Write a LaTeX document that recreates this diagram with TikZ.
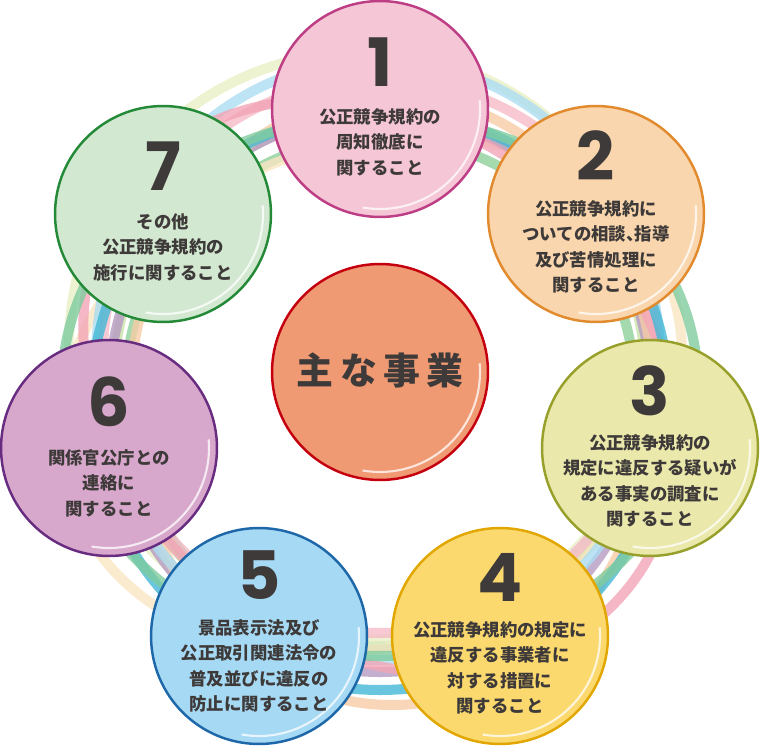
\documentclass[tikz,border=0pt]{standalone}
\usepackage{fontspec}
\setmainfont{Noto Sans CJK JP}
\newfontfamily\numfont{Poppins}
\newcommand{\halfcomma}{{\addfontfeatures{RawFeature=+halt}、}}
\definecolor{ink}{HTML}{3E3A39}
\definecolor{fill0}{HTML}{F09A74}\definecolor{line0}{HTML}{C4000F}
\definecolor{fill1}{HTML}{F5C6D5}\definecolor{line1}{HTML}{BE3E85}
\definecolor{fill2}{HTML}{F9D6AD}\definecolor{line2}{HTML}{E28A2E}
\definecolor{fill3}{HTML}{EAE8AA}\definecolor{line3}{HTML}{98A02C}
\definecolor{fill4}{HTML}{FBD96F}\definecolor{line4}{HTML}{E1A700}
\definecolor{fill5}{HTML}{A6D9F4}\definecolor{line5}{HTML}{1E67A8}
\definecolor{fill6}{HTML}{D8A8CC}\definecolor{line6}{HTML}{682C80}
\definecolor{fill7}{HTML}{D3E8D1}\definecolor{line7}{HTML}{248A38}
\definecolor{ringlime}{HTML}{C8E1A6}
\definecolor{ringleaf}{HTML}{8FCF9A}
\definecolor{ringyg}{HTML}{E8EFC6}
\definecolor{ringyellow}{HTML}{F9E6C2}
\definecolor{ringpurple}{HTML}{B69BC3}
\definecolor{ringpeach}{HTML}{F7CCA6}
\definecolor{ringblue}{HTML}{ABDDF2}
\definecolor{ringrose}{HTML}{F6BCC8}
\definecolor{ringpink}{HTML}{F3A5B6}
\definecolor{ringcyan}{HTML}{43B8D6}
\definecolor{ringgreen}{HTML}{7FCC9E}
\begin{document}
\begin{tikzpicture}[x=0.02cm, y=-0.02cm,
  band/.style={line width=5.7pt, opacity=0.8},
  disc/.style={circle, draw, line width=1.4pt, minimum size=4.32cm, inner sep=0pt},
  gloss/.style={draw=white, line width=1.2pt, opacity=0.75},
  num/.style={font=\numfont\bfseries\fontsize{38}{38}\selectfont, text=ink, anchor=base, inner sep=0pt},
  txt/.style={font=\bfseries\fontsize{9.9}{14.5}\selectfont, text=ink, align=center, inner sep=0pt}
]
\useasboundingbox (0,0) rectangle (760,746);

% colored rings behind the discs
\draw[band, ringlime] (380,380) circle [radius=266];
\draw[band, ringleaf] (380,392) circle [radius=255];
\draw[band, ringyellow] (371,394) ellipse [x radius=318, y radius=250, rotate=20];
\draw[band, ringyg] (363,346) circle [radius=294];
\draw[band, ringpurple] (380,393) ellipse [x radius=271, y radius=279];
\draw[band, ringpeach] (392,400) ellipse [x radius=262, y radius=305];
\draw[band, ringblue] (378,360) ellipse [x radius=282, y radius=300];
\draw[band, ringrose] (380,356) circle [radius=277];
\draw[band, ringpink] (380,386) ellipse [x radius=320, y radius=260, rotate=-40];
\draw[band, ringcyan] (380,401) circle [radius=289];
\draw[band, ringgreen] (380,386) ellipse [x radius=318, y radius=270];

% discs
\node[disc, draw=line0, fill=fill0] (c0) at (380,372) {};
\node[disc, draw=line1, fill=fill1] (c1) at (380,109) {};
\node[disc, draw=line2, fill=fill2] (c2) at (596,214) {};
\node[disc, draw=line3, fill=fill3] (c3) at (650,448) {};
\node[disc, draw=line4, fill=fill4] (c4) at (500,636) {};
\node[disc, draw=line5, fill=fill5] (c5) at (259,636) {};
\node[disc, draw=line6, fill=fill6] (c6) at (109,448) {};
\node[disc, draw=line7, fill=fill7] (c7) at (163,214) {};

% highlights
\draw[gloss] ([shift={(-5:100)}]c0.center) arc [start angle=-5, end angle=100, radius=100];
\draw[gloss] ([shift={(-5:100)}]c1.center) arc [start angle=-5, end angle=100, radius=100];
\draw[gloss] ([shift={(-5:100)}]c2.center) arc [start angle=-5, end angle=100, radius=100];
\draw[gloss] ([shift={(-5:100)}]c3.center) arc [start angle=-5, end angle=100, radius=100];
\draw[gloss] ([shift={(-5:100)}]c4.center) arc [start angle=-5, end angle=100, radius=100];
\draw[gloss] ([shift={(-5:100)}]c5.center) arc [start angle=-5, end angle=100, radius=100];
\draw[gloss] ([shift={(-5:100)}]c6.center) arc [start angle=-5, end angle=100, radius=100];
\draw[gloss] ([shift={(-5:100)}]c7.center) arc [start angle=-5, end angle=100, radius=100];

% texts
\node[txt, font=\bfseries\fontsize{21}{21}\selectfont] (t0) at (380,370) {主\,な\,事\,業};

\node[num] (n1) at (380,87) {1};
\node[txt] (t1) at (380,142) {公正競争規約の\\周知徹底に\\関すること};
\node[num] (n2) at (596,181) {2};
\node[txt] (t2) at (596,247) {公正競争規約に\\ついての相談\halfcomma 指導\\及び苦情処理に\\関すること};
\node[num] (n3) at (650,415) {3};
\node[txt] (t3) at (650,481) {公正競争規約の\\規定に違反する疑いが\\ある事実の調査に\\関すること};
\node[num] (n4) at (500,601) {4};
\node[txt] (t4) at (500,668) {公正競争規約の規定に\\違反する事業者に\\対する措置に\\関すること};
\node[num] (n5) at (259,599) {5};
\node[txt] (t5) at (259,666) {景品表示法及び\\公正取引関連法令の\\普及並びに違反の\\防止に関すること};
\node[num] (n6) at (109,426) {6};
\node[txt] (t6) at (109,483) {関係官公庁との\\連絡に\\関すること};
\node[num] (n7) at (163,191) {7};
\node[txt] (t7) at (163,247) {その他\\公正競争規約の\\施行に関すること};
\end{tikzpicture}
\end{document}
